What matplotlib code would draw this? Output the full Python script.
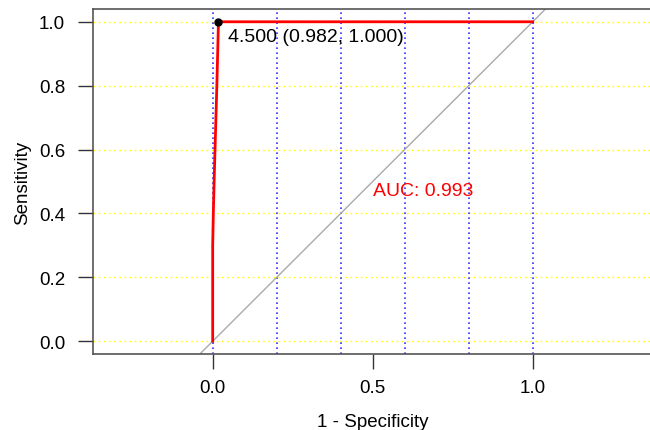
import numpy as np
import matplotlib
matplotlib.use("Agg")
import matplotlib.pyplot as plt

plt.rcParams['font.family'] = ['Liberation Sans', 'DejaVu Sans']

# ROC curve (x = 1 - specificity, y = sensitivity)
fpr = [0.0, 0.0, 0.0, 0.002, 0.005, 0.009, 0.013, 0.018, 1.0]
tpr = [0.0, 0.08, 0.30, 0.40, 0.52, 0.66, 0.80, 1.0, 1.0]
best_thr = 4.5
best_spec = 0.982
best_sens = 1.0
auc = 0.993
grid_x = [0.0, 0.2, 0.4, 0.6, 0.8, 1.0]
grid_y = [0.0, 0.2, 0.4, 0.6, 0.8, 1.0]

fig = plt.figure(figsize=(6.5, 4.31), dpi=100)
ax = fig.add_axes([93/650, 76/431, 559.4/650, 345/431])
ax.set_xlim(-0.374, 1.374)
ax.set_ylim(-0.04, 1.04)

for gy in grid_y:
    ax.axhline(gy, color='#ffff00', ls=(0, (1.2, 2.5)), lw=1.0, zorder=1)
for gx in grid_x:
    ax.axvline(gx, color='#0000ff', ls=(0, (1.0, 2.0)), lw=1.2, alpha=0.8, zorder=1)

ax.plot([-1, 2], [-1, 2], color='#aaaaaa', lw=1, zorder=2)
ax.plot(fpr, tpr, color='#ff0000', lw=2, zorder=3, solid_joinstyle='miter')
ax.plot([1 - best_spec], [best_sens], 'o', color='black', ms=5, zorder=4)
ax.text(1 - best_spec + 0.03, best_sens - 0.02,
        f"{best_thr:.3f} ({best_spec:.3f}, {best_sens:.3f})",
        fontsize=14, ha='left', va='top', color='black')
ax.text(0.5, 0.5, f"AUC: {auc:.3f}", fontsize=14, ha='left', va='top', color='#ff0000')

ax.set_xticks([0.0, 0.5, 1.0])
ax.set_xticklabels(['0.0', '0.5', '1.0'])
ax.set_yticks(grid_y)
ax.set_yticklabels([f"{v:.1f}" for v in grid_y])
ax.tick_params(axis='both', length=11, width=1, color='#333333', labelsize=13.5)
ax.tick_params(axis='x', pad=7)
ax.tick_params(axis='y', pad=9)
for s in ax.spines.values():
    s.set_color('#555555')
    s.set_linewidth(1.2)

ax.set_xlabel('1 - Specificity', fontsize=13.5, labelpad=12)
ax.set_ylabel('Sensitivity', fontsize=13.5, labelpad=6)

fig.savefig('out.png', dpi=100)
